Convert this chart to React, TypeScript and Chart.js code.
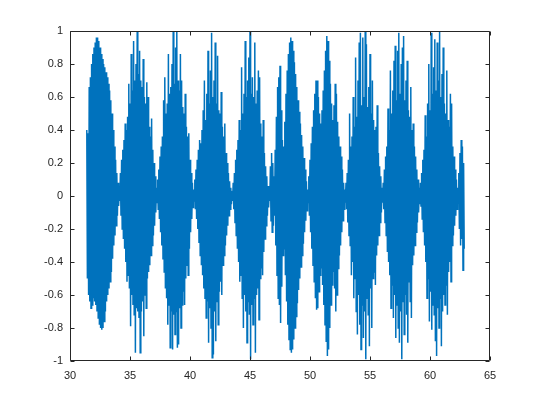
import React, { useEffect, useRef } from "react";
import { Chart, registerables } from "chart.js";

Chart.register(...registerables);

// Signal sampled every 0.1 on x, starting at 31.4: positive and negative
// excursion read off the reference in each sample interval.
const sampleStart = 31.4;
const sampleStep = 0.1;

const upperPeaks = [
  // 31.4 - 34.1
  0.40, 0.38, 0.66, 0.72, 0.80, 0.86, 0.90, 0.93, 0.96, 0.96,
  0.94, 0.90, 0.86, 0.83, 0.80, 0.78, 0.75, 0.72, 0.68, 0.64,
  0.58, 0.50, 0.40, 0.30, 0.22, 0.14, 0.08, 0.04,
  // 34.2 - 37.2
  0.14, 0.22, 0.28, 0.34, 0.44, 0.40, 0.48, 0.68, 0.56, 0.86,
  0.64, 0.94, 0.70, 0.80, 1.00, 0.74, 0.88, 0.70, 0.66, 0.83,
  0.60, 0.56, 0.69, 0.60, 0.42, 0.36, 0.47, 0.28, 0.20, 0.12,
  0.05,
  // 37.3 - 40.3
  0.10, 0.16, 0.24, 0.30, 0.36, 0.58, 0.72, 0.50, 0.56, 0.86,
  0.62, 0.66, 0.80, 1.00, 0.68, 0.90, 1.00, 0.70, 0.64, 0.86,
  0.70, 0.54, 0.50, 0.62, 0.42, 0.36, 0.38, 0.22, 0.14, 0.08,
  0.04,
  // 40.4 - 43.5
  0.10, 0.16, 0.22, 0.28, 0.34, 0.32, 0.40, 0.52, 0.70, 0.46,
  0.62, 0.88, 0.56, 0.76, 0.99, 0.60, 0.70, 0.93, 0.56, 0.85,
  0.52, 0.50, 0.63, 0.42, 0.36, 0.44, 0.26, 0.20, 0.14, 0.09,
  0.05, 0.03,
  // 43.6 - 46.6
  0.08, 0.14, 0.22, 0.28, 0.34, 0.46, 0.40, 0.78, 0.50, 0.62,
  0.94, 0.60, 0.70, 0.84, 1.00, 0.62, 0.72, 0.60, 0.93, 0.56,
  0.64, 0.76, 0.72, 0.44, 0.36, 0.46, 0.26, 0.18, 0.12, 0.06,
  0.03,
  // 46.7 - 49.8
  0.18, 0.26, 0.20, 0.12, 0.28, 0.48, 0.66, 0.72, 0.79, 0.52,
  0.34, 0.30, 0.45, 0.62, 0.76, 0.86, 0.93, 0.96, 0.94, 0.88,
  0.81, 0.74, 0.66, 0.58, 0.51, 0.44, 0.37, 0.30, 0.23, 0.16,
  0.09, 0.04,
  // 49.9 - 52.9
  0.12, 0.22, 0.32, 0.42, 0.52, 0.62, 0.70, 0.70, 0.60, 0.50,
  0.44, 0.52, 0.64, 0.76, 0.88, 0.97, 0.94, 0.82, 0.68, 0.56,
  0.46, 0.55, 0.68, 0.62, 0.45, 0.36, 0.30, 0.24, 0.16, 0.08,
  0.04,
  // 53.0 - 56.0
  0.08, 0.14, 0.22, 0.50, 0.30, 0.36, 0.60, 0.42, 0.84, 0.48,
  0.70, 0.93, 0.99, 0.55, 0.96, 0.60, 1.00, 0.92, 0.54, 0.66,
  0.86, 0.50, 0.70, 0.46, 0.40, 0.42, 0.55, 0.26, 0.18, 0.12,
  0.05,
  // 56.1 - 59.1
  0.08, 0.16, 0.24, 0.30, 0.53, 0.40, 0.76, 0.50, 0.64, 0.82,
  0.91, 0.58, 0.88, 0.99, 0.62, 0.80, 0.90, 0.97, 0.58, 0.70,
  0.82, 0.52, 0.48, 0.66, 0.40, 0.44, 0.30, 0.24, 0.16, 0.10,
  0.05,
  // 59.2 - 62.3
  0.08, 0.14, 0.22, 0.28, 0.49, 0.36, 0.56, 0.80, 0.52, 0.99,
  0.62, 0.78, 0.95, 0.64, 0.93, 0.70, 1.00, 0.60, 0.74, 0.90,
  0.56, 0.50, 0.76, 0.46, 0.42, 0.62, 0.56, 0.30, 0.24, 0.16,
  0.10, 0.05,
  // 62.4 - 62.8
  0.14, 0.26, 0.34, 0.30, 0.20,
];

const lowerPeaks = [
  // 31.4 - 34.1
  -0.50, -0.60, -0.64, -0.68, -0.66, -0.62, -0.64, -0.66, -0.70, -0.74,
  -0.78, -0.80, -0.81, -0.80, -0.76, -0.70, -0.64, -0.60, -0.56, -0.52,
  -0.46, -0.38, -0.30, -0.24, -0.18, -0.12, -0.06, -0.03,
  // 34.2 - 37.2
  -0.12, -0.20, -0.26, -0.32, -0.40, -0.52, -0.48, -0.56, -0.79, -0.60,
  -0.66, -0.72, -0.95, -0.68, -0.70, -0.74, -0.95, -0.70, -0.64, -0.85,
  -0.60, -0.68, -0.50, -0.46, -0.42, -0.36, -0.30, -0.24, -0.18, -0.10,
  -0.04,
  // 37.3 - 40.3
  -0.08, -0.14, -0.22, -0.30, -0.38, -0.46, -0.56, -0.62, -0.78, -0.66,
  -0.92, -0.70, -0.93, -0.72, -0.84, -0.70, -0.92, -0.90, -0.68, -0.80,
  -0.66, -0.58, -0.66, -0.50, -0.42, -0.48, -0.32, -0.22, -0.14, -0.07,
  -0.03,
  // 40.4 - 43.5
  -0.08, -0.14, -0.20, -0.28, -0.36, -0.42, -0.48, -0.56, -0.62, -0.74,
  -0.64, -0.89, -0.68, -0.80, -0.98, -0.96, -0.70, -0.88, -0.64, -0.78,
  -0.58, -0.52, -0.60, -0.42, -0.36, -0.30, -0.24, -0.18, -0.12, -0.08,
  -0.05, -0.03,
  // 43.6 - 46.6
  -0.08, -0.16, -0.24, -0.32, -0.40, -0.52, -0.48, -0.62, -0.80, -0.60,
  -0.70, -0.89, -0.64, -0.72, -0.99, -0.66, -0.78, -0.62, -0.95, -0.60,
  -0.56, -0.75, -0.50, -0.44, -0.48, -0.34, -0.26, -0.18, -0.12, -0.07,
  -0.03,
  // 46.7 - 49.8
  -0.15, -0.22, -0.18, -0.12, -0.30, -0.48, -0.62, -0.66, -0.77, -0.55,
  -0.36, -0.32, -0.48, -0.64, -0.78, -0.87, -0.93, -0.95, -0.93, -0.87,
  -0.80, -0.73, -0.65, -0.57, -0.50, -0.43, -0.36, -0.29, -0.22, -0.15,
  -0.09, -0.04,
  // 49.9 - 52.9
  -0.12, -0.22, -0.32, -0.42, -0.52, -0.62, -0.69, -0.68, -0.58, -0.48,
  -0.44, -0.54, -0.66, -0.78, -0.88, -0.97, -0.93, -0.80, -0.66, -0.54,
  -0.46, -0.56, -0.70, -0.60, -0.44, -0.36, -0.30, -0.22, -0.15, -0.08,
  -0.04,
  // 53.0 - 56.0
  -0.08, -0.16, -0.24, -0.30, -0.48, -0.40, -0.62, -0.50, -0.70, -0.84,
  -0.60, -0.78, -0.93, -0.66, -0.86, -0.70, -0.99, -0.62, -0.72, -0.91,
  -0.56, -0.80, -0.50, -0.46, -0.54, -0.36, -0.30, -0.24, -0.16, -0.10,
  -0.04,
  // 56.1 - 59.1
  -0.08, -0.16, -0.24, -0.34, -0.40, -0.48, -0.68, -0.54, -0.74, -0.60,
  -0.86, -0.66, -0.80, -0.89, -0.70, -0.99, -0.64, -0.84, -0.60, -0.72,
  -0.89, -0.52, -0.64, -0.74, -0.42, -0.36, -0.30, -0.22, -0.16, -0.10,
  -0.05,
  // 59.2 - 62.3
  -0.06, -0.14, -0.22, -0.30, -0.40, -0.62, -0.50, -0.76, -0.58, -0.81,
  -0.66, -0.72, -0.88, -0.97, -0.68, -0.80, -0.62, -0.91, -0.70, -0.60,
  -0.66, -0.54, -0.72, -0.46, -0.40, -0.52, -0.30, -0.24, -0.18, -0.12,
  -0.08, -0.04,
  // 62.4 - 62.8
  -0.20, -0.30, -0.26, -0.45, -0.32,
];

const xRange = [30, 65];
const xTickStep = 5;
const yRange = [-1, 1];
const yTickStep = 0.2;

const AXIS_COLOR = "#262626";
const LINE_COLOR = "#0072BD";
const FONT = { family: "'Liberation Sans', Arial, Helvetica, sans-serif", size: 11 };

const matlabBox = {
  id: "matlabBox",
  afterDraw(chart: any) {
    const { ctx, chartArea, scales } = chart;
    const { left, right, top, bottom } = chartArea;
    const L = Math.round(left) + 0.5;
    const R = Math.round(right) - 0.5;
    const T = Math.round(top) + 0.5;
    const B = Math.round(bottom) - 0.5;
    const tl = 4;
    ctx.save();
    ctx.strokeStyle = AXIS_COLOR;
    ctx.lineWidth = 1;
    ctx.beginPath();
    ctx.rect(L, T, R - L, B - T);
    for (const t of scales.x.ticks) {
      const px = Math.round(scales.x.getPixelForValue(t.value)) + 0.5;
      ctx.moveTo(px, B);
      ctx.lineTo(px, B - tl);
      ctx.moveTo(px, T);
      ctx.lineTo(px, T + tl);
    }
    for (const t of scales.y.ticks) {
      const py = Math.round(scales.y.getPixelForValue(t.value)) + 0.5;
      ctx.moveTo(L, py);
      ctx.lineTo(L + tl, py);
      ctx.moveTo(R, py);
      ctx.lineTo(R - tl, py);
    }
    ctx.stroke();
    ctx.restore();
  },
};

export default function App() {
  const ref = useRef<HTMLCanvasElement>(null);

  useEffect(() => {
    const points: { x: number; y: number }[] = [];
    upperPeaks.forEach((u, i) => {
      const t = sampleStart + i * sampleStep;
      points.push({ x: t, y: u });
      points.push({ x: t + sampleStep / 2, y: lowerPeaks[i] });
    });

    const chart = new Chart(ref.current as HTMLCanvasElement, {
      type: "line",
      data: {
        datasets: [
          {
            data: points,
            borderColor: LINE_COLOR,
            borderWidth: 1.5,
            pointRadius: 0,
            tension: 0,
            fill: false,
          },
        ],
      },
      options: {
        animation: false,
        responsive: false,
        events: [],
        layout: { padding: { left: 0, right: 50, top: 31, bottom: 0 } },
        plugins: { legend: { display: false }, tooltip: { enabled: false } },
        scales: {
          x: {
            type: "linear",
            min: xRange[0],
            max: xRange[1],
            grid: { display: false, drawTicks: false },
            border: { display: false },
            ticks: {
              stepSize: xTickStep,
              color: AXIS_COLOR,
              font: FONT,
              padding: 8,
              maxRotation: 0,
              callback: (v: any) => String(Math.round(Number(v) * 10) / 10),
            },
            afterFit: (s: any) => {
              s.height = 44;
            },
          },
          y: {
            type: "linear",
            min: yRange[0],
            max: yRange[1],
            grid: { display: false, drawTicks: false },
            border: { display: false },
            ticks: {
              stepSize: yTickStep,
              color: AXIS_COLOR,
              font: FONT,
              padding: 7,
              callback: (v: any) => String(Math.round(Number(v) * 10) / 10),
            },
            afterFit: (s: any) => {
              s.width = 70;
            },
          },
        },
      },
      plugins: [matlabBox],
    });
    return () => chart.destroy();
  }, []);

  return (
    <div
      style={{
        position: "fixed",
        left: 0,
        top: 0,
        width: 540,
        height: 405,
        background: "#ffffff",
      }}
    >
      <canvas ref={ref} width={540} height={405} style={{ display: "block" }} />
    </div>
  );
}
